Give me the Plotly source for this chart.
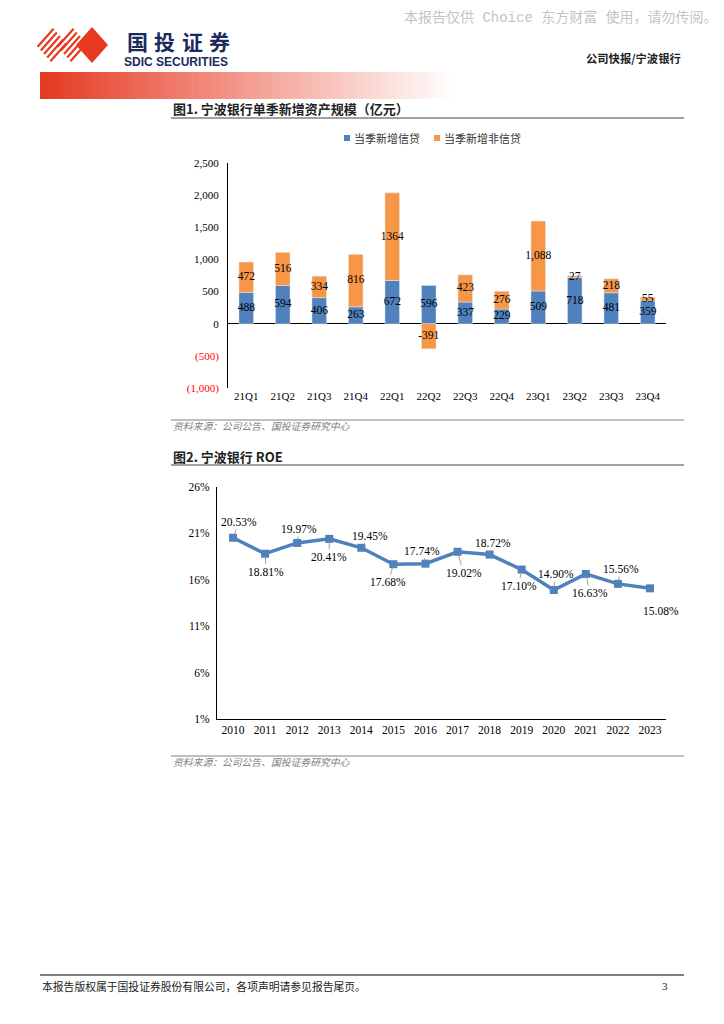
import plotly.graph_objects as go

# ---------------- data ----------------
quarters = ["21Q1", "21Q2", "21Q3", "21Q4", "22Q1", "22Q2", "22Q3", "22Q4", "23Q1", "23Q2", "23Q3", "23Q4"]
new_loans = [488, 594, 406, 263, 672, 596, 337, 229, 509, 718, 481, 359]
new_nonloans = [472, 516, 334, 816, 1364, -391, 423, 276, 1088, 27, 218, 55]
loan_labels = ["488", "594", "406", "263", "672", "596", "337", "229", "509", "718", "481", "359"]
nonloan_labels = ["472", "516", "334", "816", "1364", "-391", "423", "276", "1,088", "27", "218", "55"]
series_names = ["当季新增信贷", "当季新增非信贷"]
y1_ticks = [-1000, -500, 0, 500, 1000, 1500, 2000, 2500]
y1_ticktext = ["<span style='color:#FF0000'>(1,000)</span>", "<span style='color:#FF0000'>(500)</span>",
               "0", "500", "1,000", "1,500", "2,000", "2,500"]

years = ["2010", "2011", "2012", "2013", "2014", "2015", "2016", "2017", "2018", "2019", "2020", "2021", "2022", "2023"]
roe = [20.53, 18.81, 19.97, 20.41, 19.45, 17.68, 17.74, 19.02, 18.72, 17.10, 14.90, 16.63, 15.56, 15.08]
roe_labels = ["20.53%", "18.81%", "19.97%", "20.41%", "19.45%", "17.68%", "17.74%", "19.02%", "18.72%", "17.10%",
              "14.90%", "16.63%", "15.56%", "15.08%"]
y2_ticks = [1, 6, 11, 16, 21, 26]
y2_ticktext = ["1%", "6%", "11%", "16%", "21%", "26%"]

# ---------------- styles ----------------
W, H = 724, 1024
BLUE = "#4F81BD"
ORANGE = "#F79646"
RED = "#E63A20"
NAVY = "#1B2A5E"
SERIF = "Liberation Serif, Times New Roman, serif"
CJK = "Noto Sans CJK SC"


def px(x):
    return x / W


def py(y):
    return 1 - y / H


fig = go.Figure()

# ---- chart 1: stacked bars ----
fig.add_trace(go.Bar(x=quarters, y=new_loans, name=series_names[0], marker_color=BLUE,
                     xaxis="x", yaxis="y", showlegend=False))
fig.add_trace(go.Bar(x=quarters, y=new_nonloans, name=series_names[1], marker_color=ORANGE,
                     xaxis="x", yaxis="y", showlegend=False))

loan_mid = [v / 2 for v in new_loans]
nonloan_mid = [(b + o / 2) if o >= 0 else o / 2 for b, o in zip(new_loans, new_nonloans)]
barfont = dict(family=SERIF, size=11.5, color="#000000")
fig.add_trace(go.Scatter(x=quarters, y=loan_mid, mode="text", text=loan_labels, textfont=barfont,
                         xaxis="x", yaxis="y", showlegend=False, cliponaxis=False, hoverinfo="skip"))
fig.add_trace(go.Scatter(x=quarters, y=nonloan_mid, mode="text", text=nonloan_labels, textfont=barfont,
                         xaxis="x", yaxis="y", showlegend=False, cliponaxis=False, hoverinfo="skip"))

# ---- chart 2: ROE line ----
fig.add_trace(go.Scatter(x=years, y=roe, mode="lines+markers",
                         line=dict(color=BLUE, width=3.5),
                         marker=dict(symbol="square", size=8, color=BLUE),
                         xaxis="x2", yaxis="y2", showlegend=False, cliponaxis=False))

offsets = [(6, -16), (1, 18), (2, -14), (0, 18), (9, -12), (-5, 18), (-3, -13),
           (6, 21), (3, -12), (-3, 16), (2, -16), (4, 19), (3, -15), (11, 23)]
annotations = []
for i, (v, lab, (dx, dy)) in enumerate(zip(roe, roe_labels, offsets)):
    annotations.append(dict(x=i, y=v, xref="x2", yref="y2", text=lab, showarrow=True,
                            ax=dx, ay=dy, arrowhead=0, arrowwidth=0.8, arrowcolor="#8C8C8C",
                            standoff=2, font=dict(family=SERIF, size=11.5, color="#000000")))

# ---- page texts ----
def txt(x, y, s, size, color="#000000", family=CJK, anchor="left", bold=False, italic=False, pad=1):
    if bold:
        s = "<b>" + s + "</b>"
    if italic:
        s = "<i>" + s + "</i>"
    annotations.append(dict(x=px(x), y=py(y), xref="paper", yref="paper", text=s, showarrow=False,
                            xanchor=anchor, yanchor="middle", borderpad=pad,
                            font=dict(family=family, size=size, color=color)))


txt(720, 17, "本报告仅供 Choice 东方财富 使用，请勿传阅。", 14, color="#C4C4C4",
    family="Liberation Mono, Noto Sans CJK SC", anchor="right")
for ch, cx in zip("国投证券", [137, 164.5, 192, 219.5]):
    txt(cx, 40.5, ch, 21, color=NAVY, anchor="center", bold=True, pad=0)
txt(123, 62, "SDIC SECURITIES", 12, color=NAVY, family="Liberation Sans, Arial", bold=True, pad=0)
txt(683, 58, "公司快报/宁波银行", 11.3, color="#222222", anchor="right", bold=True)

txt(171, 108, "图1. 宁波银行单季新增资产规模（亿元）", 13, color="#222222", bold=True)
txt(171, 426, "资料来源：公司公告、国投证券研究中心", 9.8, color="#7F7F7F", italic=True)
txt(171, 456, "图2. 宁波银行 ROE", 13, color="#222222", bold=True)
txt(171, 762, "资料来源：公司公告、国投证券研究中心", 9.8, color="#7F7F7F", italic=True)
txt(40, 986, "本报告版权属于国投证券股份有限公司，各项声明请参见报告尾页。", 10.8, color="#222222")
txt(670, 986, "3", 11, color="#222222", family=SERIF, anchor="right")

# legend (manual)
txt(352, 138, series_names[0], 11, color="#333333")
txt(442, 138, series_names[1], 11, color="#333333")

shapes = []
# legend squares
for cx, col in [(347, BLUE), (437, ORANGE)]:
    shapes.append(dict(type="rect", xref="paper", yref="paper", x0=px(cx - 3), x1=px(cx + 3),
                       y0=py(141), y1=py(135), fillcolor=col, line=dict(width=0)))

# header gradient band
n = 90
x_start, x_end = 40, 455
for i in range(n):
    t = i / (n - 1)
    r = int(0xE3 + (255 - 0xE3) * t ** 0.7)
    g = int(0x3A + (255 - 0x3A) * t)
    b = int(0x22 + (255 - 0x22) * t)
    x0 = x_start + (x_end - x_start) * i / n
    x1 = x_start + (x_end - x_start) * (i + 1) / n + 0.6
    shapes.append(dict(type="rect", xref="paper", yref="paper", x0=px(x0), x1=px(x1),
                       y0=py(99), y1=py(72), fillcolor=f"rgb({r},{g},{b})", line=dict(width=0), layer="below"))

# logo: two striped diamonds + one solid diamond
hw, hh, cy = 16, 18, 45
for cxd in [52, 72]:
    for s in [0.1, 0.3, 0.5, 0.7, 0.9]:
        xa, ya = cxd - hw + hw * s, cy + hh * s
        xb, yb = cxd + hw * s, cy - hh + hh * s
        shapes.append(dict(type="line", xref="paper", yref="paper", x0=px(xa), y0=py(ya),
                           x1=px(xb), y1=py(yb), line=dict(color=RED, width=2.2)))
cxs = 92
pts = [(cxs - hw, cy), (cxs, cy - hh), (cxs + hw, cy), (cxs, cy + hh)]
path = "M " + " L ".join(f"{px(a):.5f},{py(b):.5f}" for a, b in pts) + " Z"
shapes.append(dict(type="path", xref="paper", yref="paper", path=path, fillcolor=RED, line=dict(width=0)))

# rules
def hline(y, x0, x1, color, width):
    shapes.append(dict(type="line", xref="paper", yref="paper", x0=px(x0), x1=px(x1), y0=py(y), y1=py(y),
                       line=dict(color=color, width=width)))


hline(118, 171, 684, "#808080", 1.5)
hline(420, 171, 684, "#808080", 1)
hline(465, 171, 684, "#808080", 1.5)
hline(756, 171, 684, "#808080", 1)
hline(975, 40, 684, "#000000", 1)

tickfont1 = dict(family=SERIF, size=11, color="#000000")
tickfont2 = dict(family=SERIF, size=11.5, color="#000000")

fig.update_layout(
    width=W, height=H, margin=dict(l=0, r=0, t=0, b=0, pad=0, autoexpand=False),
    paper_bgcolor="white", plot_bgcolor="white",
    barmode="relative", bargap=0.6,
    xaxis=dict(domain=[px(228), px(666)], type="category", range=[-0.5, 11.5], showline=False, showgrid=False,
               ticks="", tickfont=tickfont1, automargin=False),
    yaxis=dict(domain=[py(388), py(163)], range=[-1000, 2500], tickvals=y1_ticks, ticktext=y1_ticktext,
               showline=True, linecolor="#000000", linewidth=1, showgrid=False,
               zeroline=True, zerolinecolor="#000000", zerolinewidth=1, ticks="", tickfont=tickfont1,
               ticklabelstandoff=6, automargin=False),
    xaxis2=dict(domain=[px(217), px(666)], type="category", range=[-0.5, 13.5], showline=True,
                linecolor="#000000", linewidth=1, showgrid=False, ticks="", tickfont=tickfont2, anchor="y2",
                automargin=False),
    yaxis2=dict(domain=[py(719), py(487)], range=[1, 26], tickvals=y2_ticks, ticktext=y2_ticktext,
                showline=True, linecolor="#000000", linewidth=1, showgrid=False, zeroline=False,
                ticks="", tickfont=tickfont2, anchor="x2", ticklabelstandoff=4, automargin=False),
    annotations=annotations, shapes=shapes,
)

page_css = ("var s=document.createElement('style');"
            "s.innerHTML='html,body{margin:0!important;padding:0!important;overflow:hidden!important;"
            "width:724px;height:1024px;} body>div{line-height:0;font-size:0;}';"
            "document.head.appendChild(s);")
fig.write_html("out.html", config={"displayModeBar": False, "staticPlot": True}, post_script=page_css)
